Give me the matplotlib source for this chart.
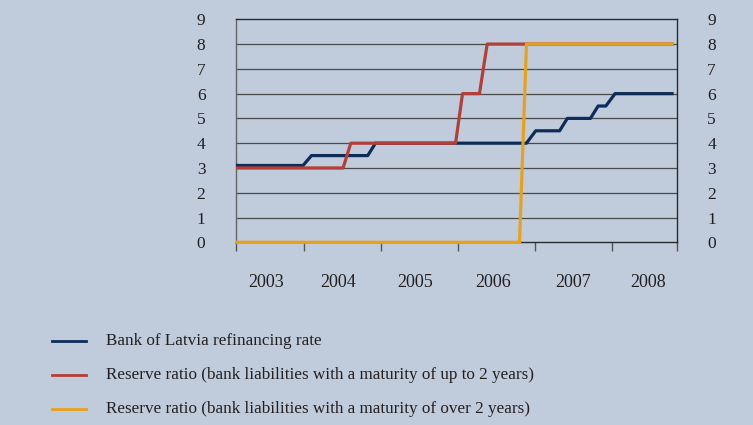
import matplotlib.pyplot as plt
from matplotlib.lines import Line2D

# Step dates (decimal years) and levels, in percent
refi_dates = [2003.14, 2003.99, 2004.10, 2004.83, 2004.93, 2006.89, 2007.01,
              2007.32, 2007.42, 2007.72, 2007.82, 2007.92, 2008.04, 2008.78]
refi_rate = [3.1, 3.1, 3.5, 3.5, 4.0, 4.0, 4.5, 4.5, 5.0, 5.0, 5.5, 5.5, 6.0, 6.0]

short_dates = [2003.14, 2004.51, 2004.61, 2005.97, 2006.06, 2006.28, 2006.38, 2008.78]
short_ratio = [3, 3, 4, 4, 6, 6, 8, 8]

long_dates = [2003.14, 2006.80, 2006.89, 2008.78]
long_ratio = [0, 0, 8, 8]

years = ["2003", "2004", "2005", "2006", "2007", "2008"]
year_label_pos = [2003.51, 2004.44, 2005.44, 2006.46, 2007.49, 2008.47]
year_edges = [2003.12, 2004.0, 2005.0, 2006.0, 2007.0, 2008.0, 2008.84]

legend_labels = [
    "Bank of Latvia refinancing rate",
    "Reserve ratio (bank liabilities with a maturity of up to 2 years)",
    "Reserve ratio (bank liabilities with a maturity of over 2 years)",
]

bg = "#c0cbdc"
navy = "#0d2d58"
red = "#b43f38"
gold = "#e8a21a"
ink = "#231f20"
serif = ["Liberation Serif", "DejaVu Serif"]

plt.rcParams["font.family"] = serif

fig = plt.figure(figsize=(7.53, 4.25), dpi=100, facecolor=bg)
ax = fig.add_axes([0.3134, 0.4299, 0.5853, 0.5247])
ax.set_facecolor(bg)

ax.set_xlim(year_edges[0], year_edges[-1])
ax.set_ylim(0, 9)

# horizontal gridlines
for v in range(1, 9):
    ax.axhline(v, color="#4a4a4a", lw=0.9, zorder=1)

ax.plot(refi_dates, refi_rate, color=navy, lw=2.3, zorder=3, clip_on=False)
ax.plot(short_dates, short_ratio, color=red, lw=2.3, zorder=4, clip_on=False)
ax.plot(long_dates, long_ratio, color=gold, lw=2.3, zorder=5, clip_on=False)

for side in ["top", "right", "bottom"]:
    ax.spines[side].set_color("#2a2a2a")
    ax.spines[side].set_linewidth(1.0)
ax.spines["left"].set_color("#666666")
ax.spines["left"].set_linewidth(1.0)

ax.set_yticks(range(0, 10))
ax.tick_params(axis="y", length=0, labelsize=12.5, pad=22, labelcolor=ink,
               left=False, right=False, labelleft=True, labelright=True)

ax.set_xticks(year_edges)
ax.set_xticklabels([])
ax.set_xticks(year_label_pos, minor=True)
ax.set_xticklabels(years, minor=True)
ax.tick_params(axis="x", which="major", direction="out", length=6.5,
               width=1.0, color="#555555")
ax.tick_params(axis="x", which="minor", length=0, pad=23, labelsize=13,
               labelcolor=ink)

# legend drawn by hand below the plot
leg_y = [340.7, 375.0, 409.3]
for lab, col, y in zip(legend_labels, [navy, red, gold], leg_y):
    fy = 1 - y / 425
    fig.add_artist(Line2D([51.7 / 753, 86 / 753], [fy, fy], color=col, lw=2.0))
    fig.text(105.7 / 753, fy, lab, fontsize=12.3, color=ink, va="center", ha="left")

fig.savefig("out.png", dpi=100, facecolor=bg)
